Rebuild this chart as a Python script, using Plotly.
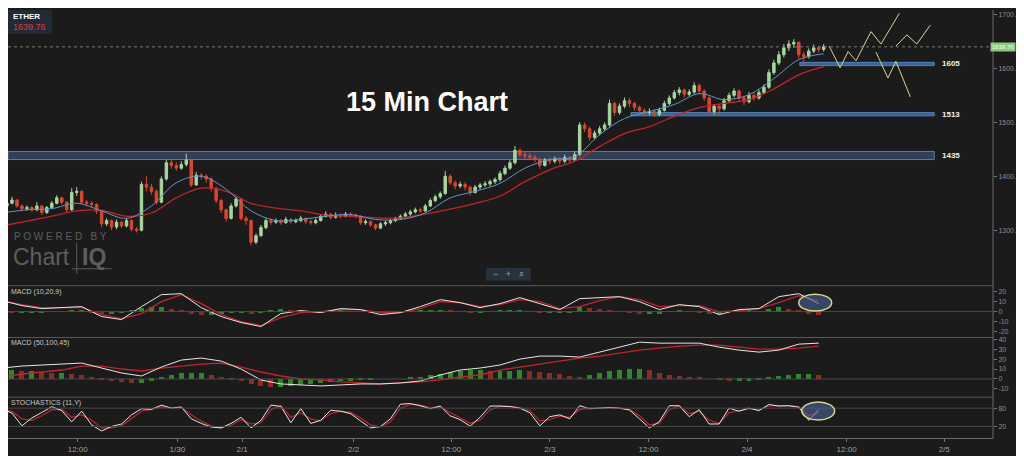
"""ETHER 15 min chart, dark ChartIQ style, with MACD and stochastics panels"""
import plotly.graph_objects as go

# ---- data ----
# one candle every 5 px; index 0 is the first candle on the left
first_open = 1340
closes = [1345, 1350, 1356, 1345, 1340, 1342, 1338, 1345, 1333, 1342,
          1350, 1360, 1352, 1338, 1370, 1372, 1352, 1350, 1348, 1335,
          1312, 1318, 1306, 1315, 1308, 1318, 1302, 1300, 1385, 1380,
          1372, 1352, 1395, 1425, 1420, 1415, 1422, 1430, 1384, 1402,
          1400, 1395, 1378, 1355, 1338, 1322, 1345, 1358, 1322, 1318,
          1278, 1290, 1305, 1318, 1315, 1318, 1314, 1320, 1316, 1318,
          1322, 1316, 1314, 1318, 1326, 1330, 1324, 1328, 1326, 1330,
          1328, 1326, 1314, 1316, 1310, 1304, 1312, 1314, 1318, 1322,
          1326, 1330, 1334, 1338, 1336, 1345, 1355, 1362, 1368, 1400,
          1388, 1382, 1385, 1380, 1370, 1380, 1384, 1386, 1390, 1394,
          1405, 1415, 1425, 1448, 1440, 1438, 1435, 1432, 1420, 1430,
          1428, 1432, 1428, 1435, 1430, 1440, 1495, 1488, 1472, 1480,
          1488, 1495, 1535, 1518, 1530, 1540, 1535, 1528, 1522, 1518,
          1520, 1515, 1522, 1535, 1545, 1555, 1560, 1552, 1556, 1568,
          1558, 1545, 1520, 1530, 1525, 1540, 1550, 1558, 1545, 1538,
          1550, 1545, 1555, 1565, 1592, 1610, 1625, 1638, 1645, 1648,
          1625, 1622, 1632, 1638, 1635, 1639.76]
highs = [1350, 1354, 1362, 1358, 1348, 1346, 1345, 1352, 1347, 1345,
         1354, 1365, 1362, 1354, 1378, 1380, 1374, 1356, 1354, 1350,
         1337, 1322, 1320, 1320, 1318, 1322, 1320, 1306, 1390, 1400,
         1386, 1376, 1400, 1430, 1432, 1426, 1428, 1442, 1432, 1408,
         1406, 1404, 1398, 1380, 1358, 1340, 1350, 1362, 1360, 1326,
         1320, 1294, 1310, 1322, 1322, 1322, 1321, 1325, 1323, 1322,
         1327, 1324, 1320, 1322, 1330, 1335, 1332, 1333, 1331, 1334,
         1333, 1331, 1328, 1320, 1318, 1312, 1315, 1318, 1321, 1325,
         1329, 1334, 1338, 1342, 1342, 1349, 1359, 1366, 1372, 1410,
         1404, 1392, 1390, 1389, 1383, 1384, 1388, 1391, 1394, 1398,
         1410, 1420, 1430, 1456, 1452, 1446, 1443, 1440, 1434, 1434,
         1435, 1437, 1436, 1440, 1438, 1446, 1500, 1500, 1492, 1485,
         1493, 1500, 1542, 1538, 1535, 1546, 1545, 1538, 1531, 1526,
         1526, 1524, 1527, 1540, 1550, 1560, 1565, 1563, 1561, 1574,
         1572, 1561, 1548, 1534, 1534, 1545, 1555, 1563, 1561, 1549,
         1556, 1554, 1560, 1570, 1598, 1616, 1632, 1645, 1652, 1654,
         1650, 1630, 1637, 1644, 1642, 1645]
lows = [1336, 1342, 1348, 1342, 1335, 1336, 1334, 1335, 1328, 1330,
        1340, 1348, 1348, 1332, 1336, 1364, 1348, 1344, 1342, 1330,
        1306, 1308, 1300, 1302, 1304, 1305, 1298, 1296, 1298, 1372,
        1366, 1348, 1350, 1392, 1414, 1410, 1412, 1418, 1380, 1382,
        1394, 1388, 1372, 1350, 1332, 1316, 1320, 1342, 1318, 1310,
        1272, 1274, 1288, 1302, 1310, 1312, 1310, 1312, 1312, 1313,
        1315, 1312, 1310, 1311, 1316, 1324, 1320, 1322, 1322, 1324,
        1324, 1322, 1310, 1310, 1306, 1300, 1302, 1308, 1311, 1315,
        1319, 1323, 1327, 1331, 1332, 1334, 1343, 1352, 1358, 1366,
        1384, 1376, 1378, 1374, 1364, 1368, 1376, 1380, 1382, 1386,
        1390, 1402, 1412, 1422, 1436, 1432, 1430, 1426, 1414, 1418,
        1422, 1424, 1422, 1424, 1425, 1428, 1438, 1482, 1466, 1468,
        1476, 1484, 1492, 1512, 1514, 1526, 1528, 1522, 1516, 1512,
        1513, 1510, 1511, 1520, 1532, 1542, 1550, 1546, 1548, 1552,
        1553, 1540, 1512, 1514, 1512, 1522, 1536, 1546, 1540, 1532,
        1535, 1540, 1542, 1552, 1562, 1588, 1606, 1620, 1632, 1638,
        1618, 1606, 1618, 1628, 1629, 1631]

# moving averages, one value every 5 candles
ma_fast = [1332, 1338, 1340, 1350, 1336, 1322, 1345, 1388, 1400, 1376,
           1336, 1318, 1320, 1326, 1329, 1320, 1320, 1332, 1360, 1372,
           1387, 1415, 1431, 1436, 1477, 1507, 1520, 1533, 1553, 1542,
           1551, 1581, 1616, 1627]
ma_slow = [1308, 1317, 1326, 1336, 1337, 1326, 1332, 1360, 1378, 1372,
           1350, 1341, 1336, 1328, 1326, 1323, 1323, 1330, 1339, 1350,
           1363, 1390, 1412, 1428, 1455, 1479, 1492, 1511, 1527, 1535,
           1542, 1562, 1588, 1603]

# MACD lines, one value every 4 candles
macd1 = [11, 6, 3, 4, 5, -5, -8, 5, 17, 18, 4, -5, -11, -15, -2, 1, -1, 3,
         2, -3, -1, 5, 12, 9, 4, 8, 14, 8, 2, 13, 14, 15, 10, 2, 7, 5, -3,
         2, 3, 15, 18, 8]
signal1 = [11, 7, 4, 4, 4, -3, -7, -2, 10, 17, 8, -3, -10, -14, -6, -1, 0,
           2, 2, -1, -1, 3, 10, 9, 5, 7, 12, 10, 3, 5, 11, 15, 12, 5, 6, 6,
           0, 1, 3, 9, 16, 11]
macd2 = [11, 13, 14, 15, 16, 11, 6, 3, 12, 19, 21, 18, 10, -1, -5, -6, -7,
         -6, -5, -5, -4, -2, 4, 9, 11, 14, 20, 23, 23, 22, 27, 32, 37, 36,
         36, 36, 32, 29, 27, 29, 35, 36]
signal2 = [2, 5, 7, 9, 13, 13, 10, 8, 11, 13, 15, 16, 12, 7, 3, 0, -1, -3,
           -4, -5, -4, -3, -1, 2, 4, 9, 12, 15, 18, 21, 23, 26, 29, 31, 33,
           34, 34, 32, 30, 30, 31, 33]

# histograms and stochastics, one value every 2 candles
hist1 = [0, -1, -1, -1, -1, 0, 0, 1, 1, -1,
         -2, -2, -1, 1, 4, 5, 5, 3, 1, -2,
         -3, -3, -2, -1, -1, -2, -1, 2, 3, 2,
         1, 0, -1, 0, 1, 0, 0, -1, -1, 0,
         0, 1, 2, 2, 2, 1, 0, -1, -1, 0,
         1, 2, 2, 0, -1, -1, -1, -1, 5, 4,
         3, 2, 0, -1, -2, -2, -2, 0, 1, 0,
         -1, -2, -2, 0, 1, 1, 0, 3, 5, 3,
         2, -2, -3]
hist2 = [9, 9, 8, 8, 7, 6, 6, 5, 4, 2,
         -1, -3, -4, -5, -5, -2, 1, 4, 6, 6,
         6, 4, 2, -1, -3, -6, -8, -9, -9, -8,
         -7, -6, -5, -4, -3, -2, -1, -1, 0, 0,
         0, 1, 2, 4, 5, 7, 8, 9, 9, 8,
         8, 8, 9, 8, 7, 6, 5, 3, 2, 4,
         6, 8, 9, 10, 10, 9, 6, 4, 3, 2,
         1, 0, -1, -2, -2, -2, -1, 1, 3, 4,
         5, 5, 4]
stoch_k = [77, 64, 22, 48, 66, 85, 72, 35, 70, 25,
           5, 20, 28, 58, 78, 76, 90, 80, 84, 45,
           30, 18, 15, 30, 50, 15, 40, 90, 86, 32,
           79, 30, 40, 73, 70, 62, 38, 15, 20, 45,
           93, 95, 88, 78, 87, 55, 42, 21, 50, 87,
           87, 85, 80, 65, 22, 52, 58, 45, 88, 78,
           80, 82, 80, 74, 45, 15, 36, 88, 88, 52,
           75, 28, 28, 80, 70, 80, 72, 92, 87, 88,
           83, 40, 75]
stoch_d = [75, 70, 45, 40, 55, 75, 76, 50, 58, 40,
           15, 15, 22, 45, 70, 76, 84, 82, 82, 58,
           38, 22, 16, 24, 42, 28, 32, 75, 88, 50,
           65, 45, 38, 62, 70, 66, 48, 25, 18, 35,
           80, 92, 90, 82, 84, 66, 48, 30, 40, 75,
           86, 86, 82, 72, 38, 42, 54, 50, 75, 80,
           80, 81, 80, 76, 55, 25, 30, 75, 87, 62,
           70, 40, 30, 65, 72, 78, 74, 87, 88, 88,
           85, 55, 65]

# support zones drawn on the chart (low, high) and their labels
zone_labels = ["1605", "1513", "1435"]
zone_low = [1605, 1512, 1431]
zone_high = [1611, 1518, 1446]
zone_start = [160.2, 126.3, 1.2]

# yellow hand drawn projections (candle index, price)
proj_a_x = [166.1, 168.3, 169.9, 171.5, 174.5, 176.5, 180.2]
proj_a_y = [1641, 1601, 1631, 1614, 1668, 1645, 1702]
proj_b_x = [179.5, 181.7, 183.7, 186.4]
proj_b_y = [1641, 1662, 1645, 1680]
proj_c_x = [175.5, 177.9, 179.5, 182.4]
proj_c_y = [1630, 1582, 1613, 1547]

last_price = 1639.76

# time axis labels (positions in candle index units)
tick_pos = [15.2, 35.2, 48.2, 70.6, 90.2, 110, 129.8, 149.6, 169.6, 189.2]
tick_text = ["12:00", "1/30", "2/1", "2/2", "12:00", "2/3", "12:00", "2/4",
             "12:00", "2/5"]

# ---- style ----
BG = "#1b1b1b"
GRID = "#4a4a4a"
UP = "#a4d89c"
DOWN = "#e0452c"
RED = "#c8212b"
WHITE = "#e6e6e6"
BLUE = "#6196cc"
YELLOW = "#d8d48c"
TICKF = dict(size=7, color="#8c8c8c", family="Liberation Sans")

# the page puts the figure 8 px in from the top left corner
OFF = 8
W, H = 1024 - OFF, 456 - OFF
PW, PH = 997 - OFF, 438 - OFF      # plot area size in pixels


def px(x):
    """page pixel x -> paper x"""
    return (x - OFF) / PW


def py(y):
    """page pixel y -> paper y"""
    return 1 - (y - OFF) / PH


def label(x, y, text, size, color, xanchor="left", **kw):
    """text placed by page pixel position"""
    return dict(x=px(x), y=py(y), xref="paper", yref="paper", text=text,
                showarrow=False, xanchor=xanchor, yanchor="middle",
                font=dict(size=size, color=color), **kw)


def hist_colors(vals):
    """green when the bar grows, red when it shrinks"""
    cols = []
    for i, v in enumerate(vals):
        prev = vals[i - 1] if i > 0 else v
        cols.append("#2a8a2a" if v >= prev else "#8e2a20")
    return cols


def main():
    opens = [first_open] + closes[:-1]
    idx = list(range(len(closes)))
    hi = [max(h, o, c) for h, o, c in zip(highs, opens, closes)]
    lo = [min(l, o, c) for l, o, c in zip(lows, opens, closes)]

    fig = go.Figure()
    fig.add_trace(go.Candlestick(
        x=idx, open=opens, high=hi, low=lo, close=closes,
        increasing=dict(line=dict(color=UP, width=1), fillcolor=UP),
        decreasing=dict(line=dict(color=DOWN, width=1), fillcolor=DOWN),
        whiskerwidth=0, xaxis="x", yaxis="y", showlegend=False))

    x5 = [5 * k for k in range(len(ma_fast))]
    fig.add_trace(go.Scatter(x=x5, y=ma_slow, mode="lines",
                             line=dict(color=RED, width=1.3, shape="spline"),
                             yaxis="y", showlegend=False))
    fig.add_trace(go.Scatter(x=x5, y=ma_fast, mode="lines",
                             line=dict(color=BLUE, width=1, shape="spline"),
                             yaxis="y", showlegend=False))

    for xs_, ys_ in ((proj_a_x, proj_a_y), (proj_b_x, proj_b_y),
                     (proj_c_x, proj_c_y)):
        fig.add_trace(go.Scatter(x=xs_, y=ys_, mode="lines",
                                 line=dict(color=YELLOW, width=1),
                                 yaxis="y", showlegend=False))

    # indicator panels
    x4 = [4 * k for k in range(len(macd1))]
    x2 = [2 * k for k in range(len(hist1))]
    fig.add_trace(go.Bar(x=x2, y=hist1, marker_color=hist_colors(hist1),
                         marker_line_width=0, width=1.0, yaxis="y2",
                         showlegend=False))
    fig.add_trace(go.Scatter(x=x4, y=signal1, mode="lines",
                             line=dict(color=RED, width=1.3), yaxis="y2",
                             showlegend=False))
    fig.add_trace(go.Scatter(x=x4, y=macd1, mode="lines",
                             line=dict(color=WHITE, width=1), yaxis="y2",
                             showlegend=False))

    fig.add_trace(go.Bar(x=[2 * k for k in range(len(hist2))], y=hist2,
                         marker_color=hist_colors(hist2),
                         marker_line_width=0, width=1.0, yaxis="y3",
                         showlegend=False))
    fig.add_trace(go.Scatter(x=[4 * k for k in range(len(signal2))], y=signal2,
                             mode="lines", line=dict(color=RED, width=1.3),
                             yaxis="y3", showlegend=False))
    fig.add_trace(go.Scatter(x=[4 * k for k in range(len(macd2))], y=macd2,
                             mode="lines", line=dict(color=WHITE, width=1),
                             yaxis="y3", showlegend=False))

    fig.add_trace(go.Scatter(x=[2 * k for k in range(len(stoch_d))], y=stoch_d,
                             mode="lines", line=dict(color=RED, width=1.2),
                             yaxis="y4", showlegend=False))
    fig.add_trace(go.Scatter(x=[2 * k for k in range(len(stoch_k))], y=stoch_k,
                             mode="lines", line=dict(color=WHITE, width=1),
                             yaxis="y4", showlegend=False))

    shapes = []
    # support zones
    for z0, z1, xs0 in zip(zone_low, zone_high, zone_start):
        wide = (z1 - z0) > 10
        shapes.append(dict(type="rect", xref="x", yref="y", x0=xs0, x1=187.2,
                           y0=z0, y1=z1, layer="below",
                           fillcolor="rgba(58,78,110,0.75)" if wide
                           else "rgba(62,110,170,0.85)",
                           line=dict(color="#4c82bd", width=1)))
    # last price dashed line
    shapes.append(dict(type="line", xref="paper", yref="y", x0=0, x1=px(995),
                       y0=last_price, y1=last_price,
                       line=dict(color="#7a7a7a", width=1, dash="dot")))
    # panel separators and right axis line
    for yy in (285, 337, 397):
        shapes.append(dict(type="line", xref="paper", yref="paper", x0=0, x1=1,
                           y0=py(yy), y1=py(yy),
                           line=dict(color="#5a5a5a", width=1)))
    shapes.append(dict(type="line", xref="paper", yref="paper", x0=1, x1=1,
                       y0=0, y1=1, line=dict(color="#6a6a6a", width=1)))
    # zero lines / stochastic bands
    for ref in ("y2", "y3"):
        shapes.append(dict(type="line", xref="paper", yref=ref, x0=0, x1=1,
                           y0=0, y1=0, line=dict(color=GRID, width=1)))
    for lvl in (80, 20):
        shapes.append(dict(type="line", xref="paper", yref="y4", x0=0, x1=1,
                           y0=lvl, y1=lvl, line=dict(color=GRID, width=1)))
    # highlight ellipses
    shapes.append(dict(type="circle", xref="x", yref="y2", x0=160, x1=166.6,
                       y0=0.5, y1=17.5, fillcolor="rgba(72,102,150,0.6)",
                       line=dict(color=YELLOW, width=1.5)))
    shapes.append(dict(type="circle", xref="x", yref="y4", x0=160.6, x1=167.2,
                       y0=41, y1=100, fillcolor="rgba(72,102,150,0.6)",
                       line=dict(color=YELLOW, width=1.5)))
    # header box and zoom control
    shapes.append(dict(type="rect", xref="paper", yref="paper", x0=0,
                       x1=px(52), y0=py(32), y1=1, fillcolor="#212b35",
                       line_width=0))
    shapes.append(dict(type="rect", xref="paper", yref="paper", x0=px(488),
                       x1=px(533), y0=py(280), y1=py(267), fillcolor="#28323d",
                       line_width=0))
    # chartiq logo strokes
    shapes.append(dict(type="line", xref="paper", yref="paper", x0=px(77),
                       x1=px(77), y0=py(273), y1=py(242),
                       line=dict(color="#5c5c5c", width=1)))
    shapes.append(dict(type="line", xref="paper", yref="paper", x0=px(72),
                       x1=px(112), y0=py(268), y1=py(268),
                       line=dict(color="#5c5c5c", width=1)))

    ann = []
    for lab, z0, z1 in zip(zone_labels, zone_low, zone_high):
        ann.append(dict(x=188.3, y=(z0 + z1) / 2, xref="x", yref="y",
                        text="<b>" + lab + "</b>", showarrow=False,
                        xanchor="left", yanchor="middle",
                        font=dict(size=8, color="#f0f0f0")))
    ann.append(label(429, 100, "<b>15 Min Chart</b>", 27, "#ffffff",
                     xanchor="center"))
    ann.append(label(11, 15, "<b>ETHER</b>", 8, "#ffffff"))
    ann.append(label(11, 25, "%.2f" % last_price, 9, "#e2344c"))
    ann.append(dict(x=px(994), y=last_price, xref="paper", yref="y",
                    text="%.2f" % last_price, showarrow=False, xanchor="left",
                    yanchor="middle", bgcolor="#8cc97e", borderpad=1,
                    font=dict(size=6, color="#ffffff")))
    ann.append(label(510.5, 273.5, "−   +   ⌕", 9, "#9aa4ae", xanchor="center"))
    ann.append(label(12, 236, "P O W E R E D   B Y", 10, "#5e5e5e"))
    ann.append(label(11, 256, "Chart", 23, "#5e5e5e"))
    ann.append(label(80, 256, "<b>IQ</b>", 23, "#5e5e5e"))
    for txt, yy in (("MACD (10,20,9)", 291), ("MACD (50,100,45)", 343),
                    ("STOCHASTICS (11,Y)", 403)):
        ann.append(label(9, yy, txt, 7, "#c8c8c8"))

    def yaxis(dom, rng, vals, texts):
        return dict(domain=dom, range=rng, side="right", anchor="x",
                    tickvals=vals, ticktext=texts, tickfont=TICKF,
                    ticks="outside", ticklen=3, tickcolor="#777",
                    showgrid=False, zeroline=False, fixedrange=True)

    main_ticks = [1300, 1400, 1500, 1600, 1700]
    fig.update_layout(
        width=W, height=H, paper_bgcolor=BG, plot_bgcolor=BG,
        margin=dict(l=0, r=W - PW, t=0, b=H - PH),
        bargap=0, shapes=shapes, annotations=ann,
        font=dict(family="Liberation Sans", color="#cccccc"),
        xaxis=dict(range=[1.2, 199], anchor="y4", tickvals=tick_pos,
                   ticktext=tick_text, tickfont=dict(size=8, color="#a0a0a0"),
                   ticks="outside", ticklen=3, tickcolor="#777",
                   showline=True, linecolor="#6a6a6a", showgrid=False,
                   zeroline=False, rangeslider=dict(visible=False)),
        yaxis=yaxis([py(285), 1], [1197.3, 1708.0], main_ticks,
                    ["%.2f" % v for v in main_ticks]),
        yaxis2=yaxis([py(337), py(285)], [-26, 26], [20, 10, 0, -10, -20],
                     ["20", "10", "0", "-10", "-20"]),
        yaxis3=yaxis([py(397), py(337)], [-18.3, 41.7],
                     [40, 30, 20, 10, 0, -10],
                     ["40", "30", "20", "10", "0", "-10"]),
        yaxis4=yaxis([0, py(397)], [-18, 116], [80, 20], ["80", "20"]),
    )
    fig.write_html("out.html")


if __name__ == "__main__":
    main()
